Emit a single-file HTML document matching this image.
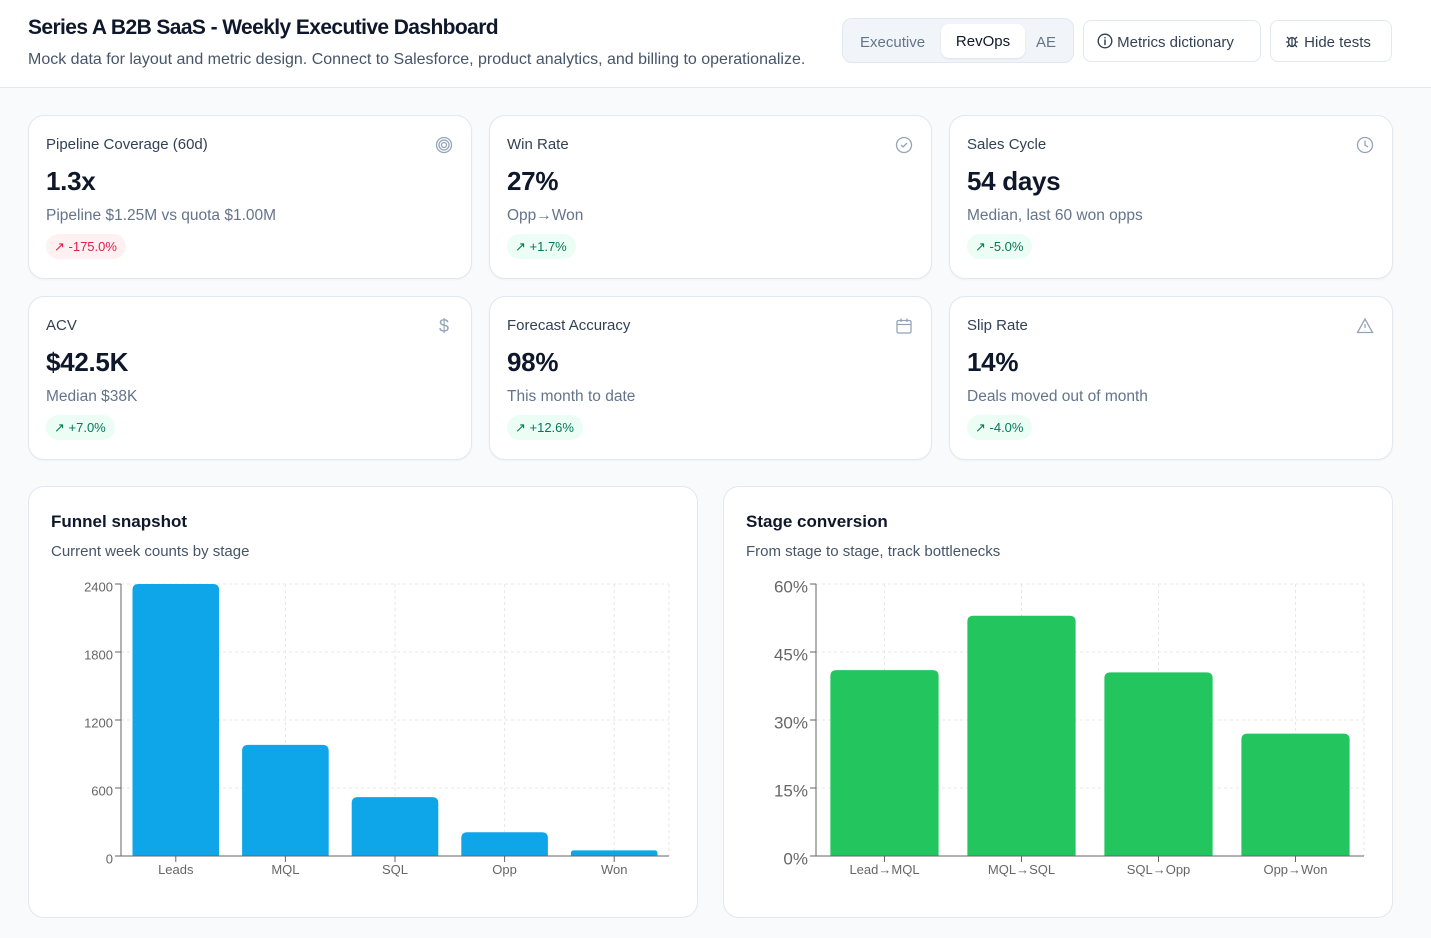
<!DOCTYPE html>
<html><head><meta charset="utf-8">
<style>
*{box-sizing:border-box;margin:0;padding:0}
body{width:1431px;height:938px;background:#f8fafc;font-family:"Liberation Sans",sans-serif;color:#0f172a;position:relative;overflow:hidden}
.hdr{position:absolute;left:0;top:0;width:1431px;height:88px;background:#fff;border-bottom:1px solid #e2e8f0}
.title{position:absolute;left:28px;top:16px;font-size:21px;font-weight:bold;letter-spacing:-0.6px;color:#0f172a}
.sub{position:absolute;left:28px;top:51px;font-size:16px;color:#475569}
.seg{position:absolute;left:842px;top:18px;width:232px;height:45px;background:#f1f5f9;border:1px solid #e2e8f0;border-radius:10px}
.seg span{position:absolute;top:2px;height:43px;line-height:43px;font-size:15px;color:#64748b}
.seg .on{left:98px;top:5px;width:84px;height:34px;line-height:36px;text-align:center;background:#fff;border-radius:8px;color:#0f172a;box-shadow:0 1px 2px rgba(0,0,0,.08)}
.btn{position:absolute;top:20px;height:42px;background:#fff;border:1px solid #e2e8f0;border-radius:8px;font-size:15px;color:#334155;line-height:43px;padding-left:13px}
.card{position:absolute;background:#fff;border:1px solid #e2e8f0;border-radius:16px;box-shadow:0 1px 2px rgba(0,0,0,.04)}
.card .l{position:absolute;left:17px;top:20px;font-size:15px;color:#334155}
.card .v{position:absolute;left:17px;top:50px;font-size:26px;font-weight:bold;color:#0f172a;letter-spacing:-0.3px}
.card .d{position:absolute;left:17px;top:91px;font-size:15.5px;color:#64748b}
.card .b{position:absolute;left:17px;top:118px;height:25px;line-height:25px;border-radius:13px;font-size:13px;padding:0 9px 0 8px}
.card .ic{position:absolute;right:18px;top:20px;width:18px;height:18px}
.g{background:#ecfdf5;color:#047857}.r{background:#fff1f2;color:#e11d48}
.ch{position:absolute;top:486px;height:432px;background:#fff;border:1px solid #e2e8f0;border-radius:16px}
.ch .t{position:absolute;left:22px;top:25px;font-size:17px;font-weight:bold}
.ch .s{position:absolute;left:22px;top:56px;font-size:15px;color:#475569}
svg text{font-family:"Liberation Sans",sans-serif}
</style></head><body>
<div class="hdr">
<div class="title">Series A B2B SaaS - Weekly Executive Dashboard</div>
<div class="sub">Mock data for layout and metric design. Connect to Salesforce, product analytics, and billing to operationalize.</div>
<div class="seg">
<span style="left:17px">Executive</span>
<span class="on">RevOps</span>
<span style="left:193px">AE</span>
</div>
<div class="btn" style="left:1083px;width:178px"><svg width="16" height="16" viewBox="0 0 16 16" style="vertical-align:-2px"><circle cx="8" cy="8" r="6.8" fill="none" stroke="#334155" stroke-width="1.4"/><path d="M8 7v4.5M8 4.6v.2" stroke="#334155" stroke-width="1.5" stroke-linecap="round"/></svg> Metrics dictionary</div>
<div class="btn" style="left:1270px;width:122px"><svg width="16" height="16" viewBox="0 0 16 16" style="vertical-align:-2px" fill="none" stroke="#334155" stroke-width="1.3"><ellipse cx="8" cy="9" rx="3.5" ry="4.5"/><path d="M8 5v8M2 9h2.5M11.5 9H14M3 4l2 2M13 4l-2 2M3 14l2-2M13 14l-2-2"/></svg> Hide tests</div>
</div>

<div class="card" style="left:28px;top:115px;width:444px;height:164px">
<div class="l">Pipeline Coverage (60d)</div><div class="v">1.3x</div><div class="d">Pipeline $1.25M vs quota $1.00M</div><div class="b r">↗ -175.0%</div>
<svg class="ic" viewBox="0 0 18 18" fill="none" stroke="#94a3b8" stroke-width="1.3"><circle cx="9" cy="9" r="7.5"/><circle cx="9" cy="9" r="5"/><circle cx="9" cy="9" r="2.5"/></svg></div>
<div class="card" style="left:489px;top:115px;width:443px;height:164px">
<div class="l">Win Rate</div><div class="v">27%</div><div class="d">Opp→Won</div><div class="b g">↗ +1.7%</div>
<svg class="ic" viewBox="0 0 18 18" fill="none" stroke="#94a3b8" stroke-width="1.3"><circle cx="9" cy="9" r="7.5"/><path d="M6 9l2 2 4-4"/></svg></div>
<div class="card" style="left:949px;top:115px;width:444px;height:164px">
<div class="l">Sales Cycle</div><div class="v">54 days</div><div class="d">Median, last 60 won opps</div><div class="b g">↗ -5.0%</div>
<svg class="ic" viewBox="0 0 18 18" fill="none" stroke="#94a3b8" stroke-width="1.3"><circle cx="9" cy="9" r="7.5"/><path d="M9 4.5V9l3 2"/></svg></div>
<div class="card" style="left:28px;top:296px;width:444px;height:164px">
<div class="l">ACV</div><div class="v">$42.5K</div><div class="d">Median $38K</div><div class="b g">↗ +7.0%</div>
<div class="ic" style="color:#94a3b8;font-size:18px;text-align:center;line-height:18px">$</div></div>
<div class="card" style="left:489px;top:296px;width:443px;height:164px">
<div class="l">Forecast Accuracy</div><div class="v">98%</div><div class="d">This month to date</div><div class="b g">↗ +12.6%</div>
<svg class="ic" viewBox="0 0 18 18" fill="none" stroke="#94a3b8" stroke-width="1.3"><rect x="2" y="3.5" width="14" height="12.5" rx="1.5"/><path d="M2 7.5h14M6 1.5v3.5M12 1.5v3.5"/></svg></div>
<div class="card" style="left:949px;top:296px;width:444px;height:164px">
<div class="l">Slip Rate</div><div class="v">14%</div><div class="d">Deals moved out of month</div><div class="b g">↗ -4.0%</div>
<svg class="ic" viewBox="0 0 18 18" fill="none" stroke="#94a3b8" stroke-width="1.3"><path d="M9 2L1.5 15.5h15z"/><path d="M9 7v4M9 13v.3"/></svg></div>

<div class="ch" style="left:28px;width:670px">
<div class="t">Funnel snapshot</div>
<div class="s">Current week counts by stage</div>
</div>
<div class="ch" style="left:723px;width:670px">
<div class="t">Stage conversion</div>
<div class="s">From stage to stage, track bottlenecks</div>
</div>
<svg id="cv" width="1431" height="938" style="position:absolute;left:0;top:0"></svg>

<script>
const funnelStages=["Leads","MQL","SQL","Opp","Won"];
const funnelCounts=[2400,980,520,210,50];
const funnelTicks=[0,600,1200,1800,2400];
const convStages=["Lead→MQL","MQL→SQL","SQL→Opp","Opp→Won"];
const convRates=[41,53,40.5,27];
const convTicks=[0,15,30,45,60];

const NS="http://www.w3.org/2000/svg";
const svg=document.getElementById('cv');
function mk(t,a,p){const e=document.createElementNS(NS,t);for(const k in a)e.setAttribute(k,a[k]);(p||svg).appendChild(e);return e;}
function chart(o){
  const g=mk('g',{});
  
  
  const n=o.cats.length,bw=(o.x1-o.x0)/n;
  const xc=i=>o.x0+bw*(i+0.5);
  const y=v=>o.y1-(v/o.max)*(o.y1-o.y0);
  o.ticks.forEach(t=>{if(t>0)mk('line',{x1:o.x0,x2:o.x1,y1:y(t),y2:y(t),stroke:'#e5e7eb','stroke-dasharray':'3 3'},g);});
  o.cats.forEach((c,i)=>mk('line',{x1:xc(i),x2:xc(i),y1:o.y0,y2:o.y1,stroke:'#e5e7eb','stroke-dasharray':'3 3'},g));
  mk('line',{x1:o.x1,x2:o.x1,y1:o.y0,y2:o.y1,stroke:'#e5e7eb','stroke-dasharray':'3 3'},g);
  o.vals.forEach((v,i)=>{
    const w=bw*o.frac,h=o.y1-y(v),x=xc(i)-w/2,r=Math.min(6,h/2);
    const p=mk('path',{d:`M${x},${o.y1}V${o.y1-h+r}Q${x},${o.y1-h} ${x+r},${o.y1-h}H${x+w-r}Q${x+w},${o.y1-h} ${x+w},${o.y1-h+r}V${o.y1}Z`,fill:o.color},g);
    
    
  });
  mk('line',{x1:o.x0,x2:o.x0,y1:o.y0,y2:o.y1,stroke:'#666'},g);
  mk('line',{x1:o.x0,x2:o.x1,y1:o.y1,y2:o.y1,stroke:'#666'},g);
  o.ticks.forEach(t=>{
    mk('line',{x1:o.x0-6,x2:o.x0,y1:y(t),y2:y(t),stroke:'#666'},g);
    const tx=mk('text',{x:o.x0-8,y:y(t)+o.fs/2+o.dy,'text-anchor':'end','font-size':o.fs,fill:'#666'},g);
    tx.textContent=o.fmt(t);
    
    
  });
  o.cats.forEach((c,i)=>{
    mk('line',{x1:xc(i),x2:xc(i),y1:o.y1,y2:o.y1+6,stroke:'#666'},g);
    const tx=mk('text',{x:xc(i),y:o.y1+18,'text-anchor':'middle','font-size':13,fill:'#666'},g);
    tx.textContent=c;
    
    
  });
}
chart({name:'funnel-bar-chart',cats:funnelStages,vals:funnelCounts,ticks:funnelTicks,max:2400,x0:121,x1:669,y0:584,y1:856,frac:0.79,color:'#0ea5e9',fs:13,dy:1,fmt:t=>String(t)});
chart({name:'conversion-bar-chart',cats:convStages,vals:convRates,ticks:convTicks,max:60,x0:816,x1:1364,y0:584,y1:856,frac:0.79,color:'#22c55e',fs:17,dy:0,fmt:t=>t+'%'});
</script>
</body></html>
